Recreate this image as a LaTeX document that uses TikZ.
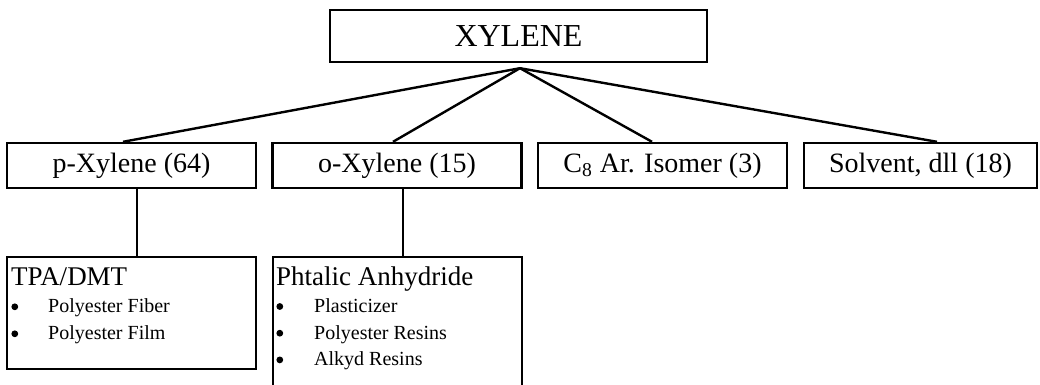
\documentclass[tikz,border=0pt]{standalone}
\usepackage{fontspec}
\setmainfont{Liberation Serif}
\usetikzlibrary{positioning, calc}
\tikzset{
  rootbox/.style={draw, line width=1.2pt, inner sep=0pt, minimum width=188.5pt,
    minimum height=26pt, font=\fontsize{16}{19}\selectfont},
  catbox/.style={draw, line width=1.2pt, inner sep=0pt, minimum width=124.5pt,
    minimum height=22.5pt, font=\fontsize{14}{17}\selectfont},
  usebox/.style={draw, line width=1.2pt, inner sep=0pt, minimum width=124.5pt},
  headtext/.style={inner sep=0pt, anchor=base west, font=\fontsize{13.5}{16}\selectfont},
  itemtext/.style={inner sep=0pt, anchor=base west, font=\fontsize{10}{12}\selectfont},
  bulletdot/.style={circle, fill, inner sep=0pt, minimum size=3.4pt},
  link/.style={line width=1.2pt}
}

\begin{document}
\begin{tikzpicture}[x=0.5pt, y=-0.5pt]
  \clip (0,0) rectangle (1040,385);
  % root
  \node[rootbox] (xylene) at (518.5,36) {XYLENE};
  \coordinate (apex) at ($(xylene.south)+(1.5,5)$);
  % second row
  \node[catbox] (para) at (131.5,165.5) {p-Xylene (64)};
  \node[catbox] (ortho) at (397,165.5) {o-Xylene (15)};
  \node[catbox] (isomer) at (662.5,165.5) {C\textsubscript{8} Ar. Isomer (3)};
  \node[catbox, minimum width=116.5pt] (solvent) at (920.5,165.5) {Solvent, dll (18)};
  \draw[link] (apex) -- ($(para.north)+(-8.5,0)$);
  \draw[link] (apex) -- ($(ortho.north)+(-4,0)$);
  \draw[link] (apex) -- ($(isomer.north)+(-10.5,0)$);
  \draw[link] (apex) -- ($(solvent.north)+(16.5,0)$);
  % end uses
  \node[usebox, minimum height=56pt] (tpa) at (131.5,313) {};
  \node[usebox, minimum height=69pt] (pa) at (397.5,326) {};
  \draw[link] ($(para.south)+(5.5,0)$) coordinate (paradrop) -- (paradrop |- tpa.north);
  \draw[link] ($(ortho.south)+(6,0)$) coordinate (orthodrop) -- (orthodrop |- pa.north);
  \node[headtext] (tpahead) at ($(tpa.north west)+(5,30)$) {TPA/DMT};
  \foreach \txt [count=\i] in {Polyester Fiber, Polyester Film} {
    \node[bulletdot] (tpabul\i) at ($(tpa.north west)+(9,{24+27*\i})$) {};
    \node[itemtext] (tpaitem\i) at ($(tpa.north west)+(42,{30+27*\i})$) {\txt};
  }
  \node[headtext] (pahead) at ($(pa.north west)+(4,30)$) {Phtalic Anhydride};
  \foreach \txt [count=\i] in {Plasticizer, Polyester Resins, Alkyd Resins} {
    \node[bulletdot] (pabul\i) at ($(pa.north west)+(8,{24+26.7*\i})$) {};
    \node[itemtext] (paitem\i) at ($(pa.north west)+(42,{30+26.7*\i})$) {\txt};
  }
\end{tikzpicture}
\end{document}
